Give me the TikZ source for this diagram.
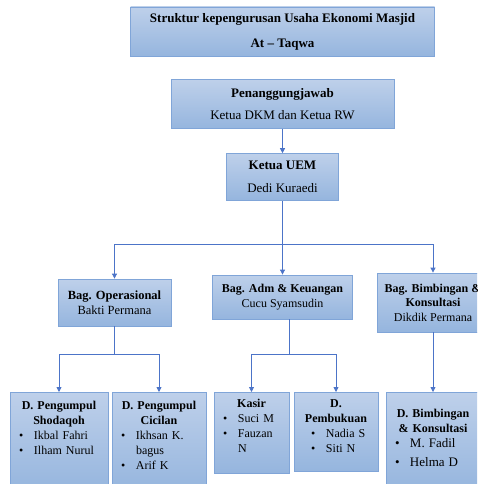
\documentclass[tikz,border=0pt]{standalone}
\usepackage{fontspec}
\setmainfont{Liberation Serif}
\usetikzlibrary{positioning}
\usetikzlibrary{arrows.meta}

\definecolor{boxtop}{RGB}{190,208,234}
\definecolor{boxbot}{RGB}{149,181,222}
\definecolor{boxline}{RGB}{128,165,216}
\definecolor{linkblue}{RGB}{76,116,200}

\setlength{\parindent}{0pt}
\newcommand{\itm}[2][0pt]{\hspace*{#1}\makebox[15pt][l]{\textbullet}#2}

\begin{document}
\begin{tikzpicture}[x=1pt,y=-1pt,
	box/.style={draw=boxline,line width=0.8pt,top color=boxtop,bottom color=boxbot,rectangle,inner sep=0pt},
	list/.style={inner sep=0pt,align=left,font=\fontsize{12}{15}\selectfont},
	link/.style={draw=linkblue,line width=0.8pt},
	tip/.style={link,-{Triangle[length=5pt,width=5pt]}}]

		\fill[white] (0,0) rectangle (477,484);
		\useasboundingbox (0,0) rectangle (477,484);
		\clip (0,0) rectangle (477,484);

		% top of the structure
		\node[box,minimum width=304pt,minimum height=49pt,align=center,font=\bfseries\fontsize{13}{25}\selectfont] at (282.5,31.5) (title)
		{Struktur kepengurusan Usaha Ekonomi Masjid\\At -- Taqwa};
		\node[below = 23pt of title,box,minimum width=223pt,minimum height=49pt,align=center,font=\fontsize{13}{22}\selectfont] (pen)
		{\textbf{Penanggungjawab}\\Ketua DKM dan Ketua RW};
		\node[below = 24pt of pen,box,minimum width=112pt,minimum height=47pt,align=center,font=\fontsize{13}{23}\selectfont] (ketua)
		{\textbf{Ketua UEM}\\Dedi Kuraedi};

		% bagian
		\node[box,minimum width=113pt,minimum height=47pt,align=center,font=\fontsize{12.5}{15}\selectfont] at (114.5,302.5) (bagop)
		{\textbf{Bag. Operasional}\\Bakti Permana};
		\node[box,minimum width=140pt,minimum height=44pt,align=center,font=\fontsize{12}{15}\selectfont] at (282.5,297) (bagadm)
		{\textbf{Bag. Adm \& Keuangan}\\Cucu Syamsudin};
		\node[box,minimum width=112pt,minimum height=59pt,align=center,font=\fontsize{12}{14.5}\selectfont] at (433,302.5) (bagbim)
		{\textbf{Bag. Bimbingan \&}\\\textbf{Konsultasi}\\Dikdik Permana};

		% divisi
		\node[box,minimum width=98pt,minimum height=100pt,anchor=north] at (59,392) (shod) {};
		\node[box,minimum width=94pt,minimum height=100pt,anchor=north] at (159,392) (cicil) {};
		\node[box,minimum width=75pt,minimum height=81pt,anchor=north] at (251.5,392) (kasir) {};
		\node[box,minimum width=84pt,minimum height=79pt,anchor=north] at (336,392) (buku) {};
		\node[box,minimum width=94pt,minimum height=100pt,anchor=north] at (433,392) (bimb) {};

		\node[below = 9pt of shod.north,list,text width=80pt] (shodtx)
		{{\centering\textbf{D. Pengumpul}\\\textbf{Shodaqoh}\par}\itm{Ikbal Fahri}\\\itm{Ilham Nurul}};
		\node[below = 9pt of cicil.north,list,text width=76pt] (ciciltx)
		{{\centering\textbf{D. Pengumpul}\\\textbf{Cicilan}\par}\itm{Ikhsan K.}\\\hspace*{15pt}bagus\\\itm{Arif K}};
		\node[below = 7pt of kasir.north,list,text width=57pt] (kasirtx)
		{{\centering\textbf{Kasir}\par}\itm{Suci M}\\\itm{Fauzan}\\\hspace*{15pt}N};
		\node[below = 7pt of buku.north,list,text width=66pt] (bukutx)
		{{\centering\textbf{D.}\\\textbf{Pembukuan}\par}\itm[8pt]{Nadia S}\\\itm[8pt]{Siti N}};
		\node[below = 17pt of bimb.north,list,text width=76pt] (bimbtx)
		{{\centering\textbf{D. Bimbingan}\\\textbf{\& Konsultasi}\par}\fontsize{13}{15}\selectfont\itm{M. Fadil}\\[4pt]\itm{Helma D}};

		% connectors
		\coordinate (hub1) at (282.5,244);
		\coordinate (hub2) at (114.5,354);
		\coordinate (hub3) at (289,354);

		\draw[tip] (pen) -- (ketua);
		\draw[link] (ketua) -- (hub1);
		\draw[tip] (hub1) -| (bagop);
		\draw[tip] (hub1) -- (bagadm);
		\draw[tip] (hub1) -| (bagbim);

		\draw[link] (bagop) -- (hub2);
		\draw[tip] (hub2) -| (shod);
		\draw[tip] (hub2) -| (cicil);

		\draw[link] (bagadm.south -| hub3) -- (hub3);
		\draw[tip] (hub3) -| (kasir);
		\draw[tip] (hub3) -| (buku);

		\draw[tip] (bagbim) -- (bimb);
	\end{tikzpicture}
\end{document}
